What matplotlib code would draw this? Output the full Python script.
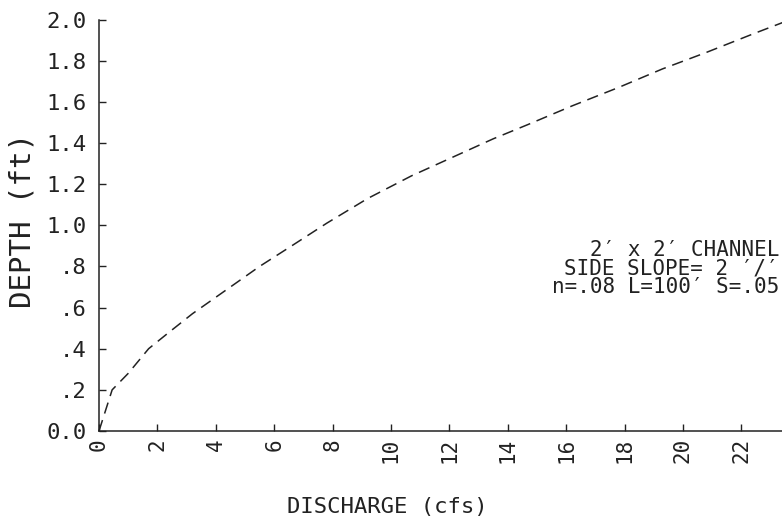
import matplotlib
matplotlib.use("Agg")
import matplotlib.pyplot as plt

# Data
discharge = [0, 0.45, 1.0, 1.7, 2.4, 3.2, 4.3, 5.5, 6.6, 7.8, 9.2, 10.7,
             12.1, 13.5, 14.7, 16.2, 17.8, 19.3, 20.8, 22.4, 23.5]
depth = [0, 0.20, 0.28, 0.40, 0.48, 0.57, 0.68, 0.80, 0.90, 1.01, 1.13, 1.24,
         1.33, 1.42, 1.49, 1.58, 1.67, 1.76, 1.84, 1.93, 1.99]

xticks = [0, 2, 4, 6, 8, 10, 12, 14, 16, 18, 20, 22]
xtick_labels = ["0", "2", "4", "6", "8", "10", "12", "14", "16", "18", "20", "22"]
yticks = [0.0, 0.2, 0.4, 0.6, 0.8, 1.0, 1.2, 1.4, 1.6, 1.8, 2.0]
ytick_labels = ["0.0", ".2", ".4", ".6", ".8", "1.0", "1.2", "1.4", "1.6", "1.8", "2.0"]

note_lines = ["2\u2032 x 2\u2032 CHANNEL", "SIDE SLOPE= 2 \u2032/\u2032", "n=.08 L=100\u2032 S=.05"]

FONT = ["DejaVu Sans Mono", "DejaVu Sans"]
INK = "#222222"
plt.rcParams["font.family"] = FONT

W, H = 782, 526
fig = plt.figure(figsize=(W / 100, H / 100), dpi=100)
fig.patch.set_facecolor("white")

left, bottom_top, top_top = 99, 431, 19.5
px_per_unit = 29.2
xmax = 24
ax = fig.add_axes([left / W, 1 - bottom_top / H, xmax * px_per_unit / W,
                   (bottom_top - top_top) / H])
ax.set_xlim(0, xmax)
ax.set_ylim(0, 2.0)

ax.plot(discharge, depth, color=INK, lw=1.1, linestyle=(0, (7.5, 4.5)),
        clip_on=False)

for s in ["top", "right"]:
    ax.spines[s].set_visible(False)
for s in ["left", "bottom"]:
    ax.spines[s].set_color(INK)
    ax.spines[s].set_linewidth(1.1)

ax.set_xticks(xticks)
ax.set_xticklabels(xtick_labels, rotation=90, fontsize=15, color=INK)
ax.set_yticks(yticks)
ax.set_yticklabels(ytick_labels, fontsize=16, color=INK)
ax.tick_params(axis="both", direction="in", length=5, width=1.0, color=INK)
ax.tick_params(axis="x", pad=5)
ax.tick_params(axis="y", pad=9)

fig.text(23 / W, 1 - 220 / H, "DEPTH (ft)", rotation=90, ha="center",
         va="center", fontsize=21, color=INK)
fig.text(387 / W, 1 - 507 / H, "DISCHARGE (cfs)", ha="center", va="center",
         fontsize=16, color=INK)

for yy, line in zip([250, 268.5, 287], note_lines):
    fig.text(779 / W, 1 - yy / H, line, ha="right", va="center",
             fontsize=15, color=INK)

fig.savefig("out.png", dpi=100, facecolor="white")
